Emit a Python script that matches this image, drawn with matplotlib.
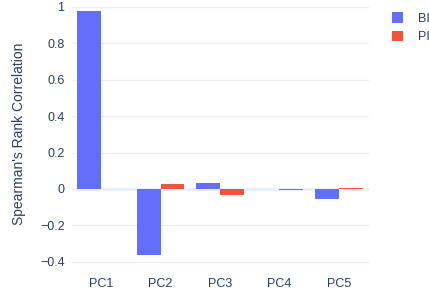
import matplotlib
matplotlib.use("Agg")
import matplotlib.pyplot as plt
import numpy as np

# Chart data
components = ["PC1", "PC2", "PC3", "PC4", "PC5"]
bi_values = [0.98, -0.363, 0.031, 0.001, -0.057]
pi_values = [0.001, 0.030, -0.033, -0.007, 0.003]
y_ticks = [-0.4, -0.2, 0, 0.2, 0.4, 0.6, 0.8, 1]
y_tick_labels = ["\u22120.4", "\u22120.2", "0", "0.2", "0.4", "0.6", "0.8", "1"]

BLUE = "#636EFA"
RED = "#EF553B"
TEXT = "#2a3f5f"
GRID = "#EBF0F8"

plt.rcParams["font.family"] = ["Liberation Sans", "DejaVu Sans"]

W, H = 429, 291
fig = plt.figure(figsize=(W / 100, H / 100), dpi=100)
# plot area in pixels: x 71.5..368.5, y 0..268
ax = fig.add_axes([71.5 / W, 1 - 268 / H, 297 / W, 268 / H])

x = np.arange(len(components))
width = 0.4
ax.bar(x - width / 2, bi_values, width, color=BLUE, label="BI", zorder=3)
ax.bar(x + width / 2, pi_values, width, color=RED, label="PI", zorder=3)

ax.set_xlim(-0.5, len(components) - 0.5)
ax.set_ylim(-0.434, 1.038)
ax.set_yticks(y_ticks)
ax.set_yticklabels(y_tick_labels)
ax.set_xticks(x)
ax.set_xticklabels(components)

ax.grid(axis="y", color=GRID, linewidth=1, zorder=0)
ax.axhline(0, color=GRID, linewidth=2, zorder=1)
for s in ax.spines.values():
    s.set_visible(False)
ax.tick_params(axis="both", length=0, labelsize=9, labelcolor=TEXT)
ax.tick_params(axis="x", pad=7)
ax.tick_params(axis="y", pad=5)

ax.set_ylabel("Spearman's Rank Correlation", fontsize=10, color=TEXT, labelpad=10)

leg = fig.legend(loc="upper left", bbox_to_anchor=(381 / W, 1 - 1 / H),
                 frameon=False, fontsize=9, handlelength=0.85, handleheight=0.95,
                 handletextpad=1.2, labelspacing=0.45, labelcolor=TEXT)

fig.savefig("out.png", dpi=100)
